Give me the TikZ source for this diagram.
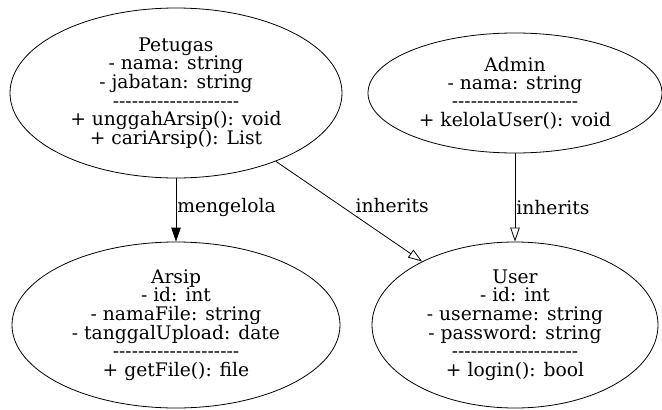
\documentclass[tikz,border=0pt]{standalone}
\usepackage{fontspec}
\usetikzlibrary{shapes.geometric,arrows.meta}
\newfontfamily\dvs{DejaVu Serif}
\newcommand\sepline{--------------------}
\tikzset{
  cls/.style={ellipse, draw, line width=0.8pt, inner sep=0pt, align=center,
    font=\dvs\fontsize{18.7}{18.3}\selectfont},
  edge/.style={line width=0.8pt},
  lbl/.style={inner sep=0pt, anchor=base west, font=\dvs\fontsize{18.7}{18.3}\selectfont},
  solidtip/.style={-{Triangle[length=14pt,width=9.5pt]}},
  opentip/.style={-{Triangle[open,length=14pt,width=9.5pt]}}
}
\begin{document}
\begin{tikzpicture}[x=1pt,y=-1pt]
\useasboundingbox (0,0) rectangle (662,410);

\node[cls, minimum width=332pt, minimum height=170pt] (petugas) at (176,93)
  {Petugas\\- nama: string\\- jabatan: string\\\sepline\\+ unggahArsip(): void\\+ cariArsip(): List};
\node[cls, minimum width=294pt, minimum height=120pt] (admin) at (515,93)
  {Admin\\- nama: string\\\sepline\\+ kelolaUser(): void};
\node[cls, minimum width=328pt, minimum height=166pt] (arsip) at (176,325)
  {Arsip\\- id: int\\- namaFile: string\\- tanggalUpload: date\\\sepline\\+ getFile(): file};
\node[cls, minimum width=286pt, minimum height=166pt] (user) at (515,325)
  {User\\- id: int\\- username: string\\- password: string\\\sepline\\+ login(): bool};

\draw[edge, solidtip] (petugas) -- node[lbl, pos=0.547, xshift=1pt] (l1) {mengelola} (arsip);
\draw[edge, opentip] (petugas) -- node[lbl, pos=0.515, xshift=4pt] (l2) {inherits} (user);
\draw[edge, opentip] (admin) -- node[lbl, pos=0.69, xshift=1pt] (l3) {inherits} (user);
\end{tikzpicture}
\end{document}
